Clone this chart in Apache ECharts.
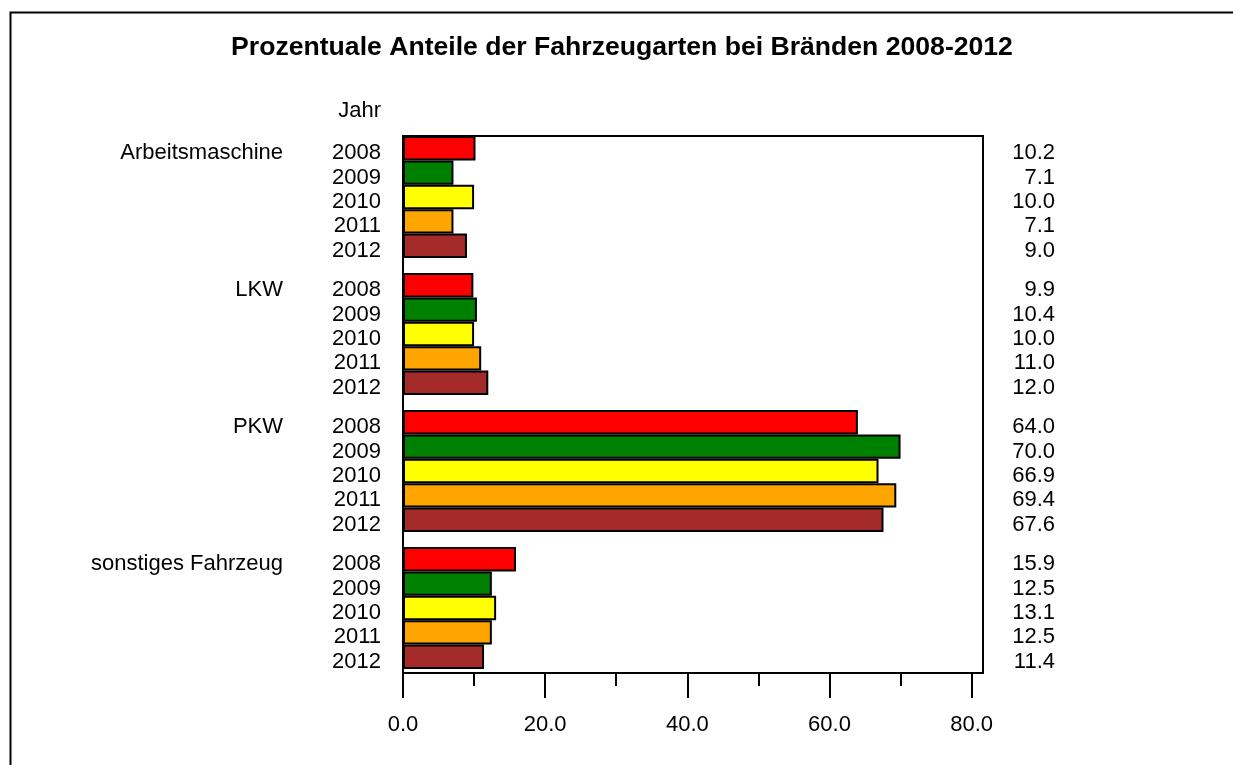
<!DOCTYPE html>
<html>
<head>
<meta charset="utf-8">
<script src="https://cdn.jsdelivr.net/npm/echarts@6/dist/echarts.min.js"></script>
<style>
  html, body { margin: 0; padding: 0; background: #fff; }
  #chart { width: 1233px; height: 765px; }
</style>
</head>
<body>
<div id="chart"></div>
<script>
const groups = ['Arbeitsmaschine', 'LKW', 'PKW', 'sonstiges Fahrzeug']
const years = ['2008', '2009', '2010', '2011', '2012']
const arbeitsmaschine = [10.2, 7.1, 10.0, 7.1, 9.0]
const lkw = [9.9, 10.4, 10.0, 11.0, 12.0]
const pkw = [64.0, 70.0, 66.9, 69.4, 67.6]
const sonstiges = [15.9, 12.5, 13.1, 12.5, 11.4]
const majorTicks = [0, 20, 40, 60, 80]
const minorTicks = [10, 30, 50, 70]

const groupValues = [arbeitsmaschine, lkw, pkw, sonstiges]
const yearColors = ['#ff0000', '#008000', '#ffff00', '#ffa500', '#a52a2a']
const FONT = 'Liberation Sans, Arial, sans-serif'
const X_MAX = 81.6
const LEFT = 403
const WIDTH = 580

// frame grid: box, x axis with long/short ticks
const grid = [{
  left: LEFT, top: 136, width: WIDTH, height: 537,
  show: true, borderColor: '#000', borderWidth: 2, z: 3,
}]
const xAxis = [
  {
    gridIndex: 0, type: 'value', min: 0, max: X_MAX, position: 'bottom',
    axisLine: { show: true, lineStyle: { color: '#000', width: 2 } },
    axisTick: { show: true, customValues: majorTicks, length: 25, lineStyle: { color: '#000', width: 2 } },
    axisLabel: {
      customValues: majorTicks, margin: 41, color: '#000', fontSize: 22, fontFamily: FONT,
      formatter: (v) => v.toFixed(1),
    },
    splitLine: { show: false },
  },
  {
    gridIndex: 0, type: 'value', min: 0, max: X_MAX, position: 'bottom',
    axisLine: { show: false },
    axisTick: { show: true, customValues: minorTicks, length: 13, lineStyle: { color: '#000', width: 2 } },
    axisLabel: { show: false },
    splitLine: { show: false },
  },
]
const yAxis = [{
  gridIndex: 0, type: 'value', min: 0, max: 1,
  axisLine: { show: true, lineStyle: { color: '#000', width: 2 } },
  axisTick: { show: false }, axisLabel: { show: false }, splitLine: { show: false },
}]
const series = []

const labelStyle = { color: '#000', fontSize: 22, fontFamily: FONT, interval: 0 }
const bare = { axisLine: { show: false }, axisTick: { show: false } }

// per vehicle type: a bar grid, plus a label grid sitting 5px lower
groups.forEach((name, g) => {
  const top = 136 + g * 137
  const barGrid = grid.length
  grid.push({ left: LEFT, top: top, width: WIDTH, height: 122 })
  const labelGrid = grid.length
  grid.push({ left: LEFT, top: top + 5, width: WIDTH, height: 122 })

  const barX = xAxis.length
  xAxis.push({ gridIndex: barGrid, type: 'value', min: 0, max: X_MAX, show: false })
  xAxis.push({ gridIndex: labelGrid, type: 'value', min: 0, max: X_MAX, show: false })

  const barY = yAxis.length
  yAxis.push({ gridIndex: barGrid, type: 'category', data: years, inverse: true, show: false })
  yAxis.push({
    gridIndex: labelGrid, type: 'category', data: years, inverse: true, position: 'left', ...bare,
    axisLabel: { ...labelStyle, margin: 22 },
  })
  yAxis.push({
    gridIndex: labelGrid, type: 'category', data: years.map((y, j) => (j === 0 ? name : '')),
    inverse: true, position: 'left', ...bare,
    axisLabel: { ...labelStyle, margin: 120 },
  })
  yAxis.push({
    gridIndex: labelGrid, type: 'category', data: groupValues[g].map((v) => v.toFixed(1)),
    inverse: true, position: 'right', ...bare,
    axisLabel: { ...labelStyle, margin: 72, align: 'right' },
  })
  series.push({
    type: 'bar',
    xAxisIndex: barX,
    yAxisIndex: barY,
    barWidth: '100%',
    data: groupValues[g].map((v, j) => ({
      value: v,
      itemStyle: { color: yearColors[j], borderColor: '#000', borderWidth: 2 },
    })),
  })
})

const chart = echarts.init(document.getElementById('chart'), null, { renderer: 'canvas' })
chart.setOption({
  animation: false,
  backgroundColor: '#fff',
  grid, xAxis, yAxis, series,
  graphic: [
    {
      type: 'rect', left: 8, top: 10,
      shape: { width: 1300, height: 800 },
      style: { fill: 'none', stroke: '#000', lineWidth: 2 },
    },
    {
      type: 'text', x: 622, y: 48,
      style: {
        text: 'Prozentuale Anteile der Fahrzeugarten bei Bränden 2008-2012',
        fill: '#000', font: 'bold 26.6px ' + FONT, textAlign: 'center', textVerticalAlign: 'middle',
      },
    },
    {
      type: 'text', x: 381, y: 111,
      style: {
        text: 'Jahr', fill: '#000', font: '22px ' + FONT,
        textAlign: 'right', textVerticalAlign: 'middle',
      },
    },
  ],
})
</script>
</body>
</html>
